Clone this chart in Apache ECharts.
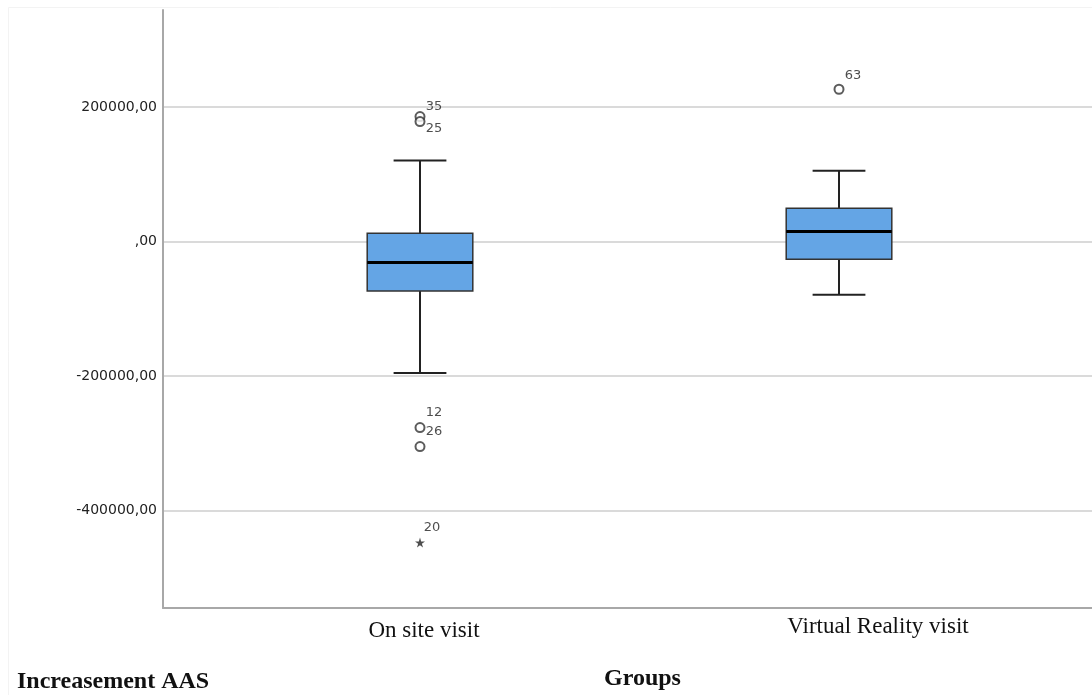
<!DOCTYPE html>
<html>
<head>
<meta charset="utf-8">
<script src="https://cdn.jsdelivr.net/npm/echarts@6/dist/echarts.min.js"></script>
<style>html,body{margin:0;padding:0;background:#fff;}#c{width:1092px;height:695px;}</style>
</head>
<body>
<div id="c"></div>
<script>
// ---- data ----
const categories = ['On site visit', 'Virtual Reality visit'];
// [lower whisker, Q1, median, Q3, upper whisker]
const boxStats = [
  [-195500, -73600, -31500, 12200, 120100],
  [-79500, -26500, 14600, 49400, 105200]
];
const outlierGroup = [0, 0, 0, 0, 1];
const outlierValues = [185500, 178100, -276800, -305000, 226200];
const outlierIds = ['35', '25', '12', '26', '63'];
const extremeGroup = [0];
const extremeValues = [-447700];
const extremeIds = ['20'];
const yTicks = [-400000, -200000, 0, 200000];
const yMin = -545000, yMax = 344000;
const xTitle = 'Groups';
const yTitle = 'Increasement AAS';

// label offsets (style)
const labelOffsets = {'35': [14, -10], '25': [14, 7], '12': [14, -15], '26': [14, -15], '63': [14, -14], '20': [12, -15]};

const chart = echarts.init(document.getElementById('c'), null, {renderer: 'canvas'});
const fmt = v => (v === 0 ? ',00' : v + ',00');

const boxData = boxStats.map((s, i) => [i].concat(s));
const outData = outlierValues.map((v, i) => ({
  value: [outlierGroup[i], v],
  label: {formatter: outlierIds[i], offset: labelOffsets[outlierIds[i]]}
}));
const extData = extremeValues.map((v, i) => ({
  value: [extremeGroup[i], v],
  label: {formatter: extremeIds[i], offset: labelOffsets[extremeIds[i]]}
}));

const starPath = 'path://M50,0 L61,35 L98,35 L68,57 L79,91 L50,70 L21,91 L32,57 L2,35 L39,35 Z';

const option = {
  animation: false,
  backgroundColor: '#fff',
  grid: [
    {left: 163, right: 0, top: 10, bottom: 87},
    {left: 210.5, width: 838, top: 10, bottom: 87}
  ],
  xAxis: [
    {gridIndex: 0, type: 'value', min: 0, max: 1, axisLine: {show: true, onZero: false, lineStyle: {color: '#a8a8a8', width: 2}},
     axisTick: {show: false}, axisLabel: {show: false}, splitLine: {show: false}},
    {gridIndex: 1, type: 'category', data: categories, boundaryGap: true,
     axisLine: {show: false}, axisTick: {show: false}, splitLine: {show: false},
     axisLabel: {
       margin: 7,
       formatter: (v, i) => (i === 0 ? '{a|' + v + '}' : '{b|' + v + '}'),
       rich: {
         a: {fontFamily: 'Liberation Serif', fontSize: 23, color: '#111', lineHeight: 23, padding: [8, 0, 0, 8]},
         b: {fontFamily: 'Liberation Serif', fontSize: 23, color: '#111', lineHeight: 23, padding: [0, 0, 0, 78]}
       }
     }}
  ],
  yAxis: [
    {gridIndex: 0, type: 'value', min: yMin, max: yMax,
     axisLine: {show: true, onZero: false, lineStyle: {color: '#a8a8a8', width: 2}},
     axisTick: {show: false, customValues: yTicks},
     axisLabel: {customValues: yTicks, formatter: fmt, margin: 6, fontFamily: 'DejaVu Sans', fontSize: 14, color: '#222'},
     splitLine: {show: true, lineStyle: {color: '#dadada', width: 2}}},
    {gridIndex: 1, type: 'value', min: yMin, max: yMax, show: false, splitLine: {show: false}}
  ],
  series: [
    {
      type: 'custom', xAxisIndex: 1, yAxisIndex: 1, data: boxData,
      encode: {x: 0, y: [1, 2, 3, 4, 5]},
      renderItem: function (params, api) {
        const i = api.value(0);
        const bw = api.size([1, 0])[0] * 0.252;
        const cw = bw / 2;
        const pMin = api.coord([i, api.value(1)]);
        const pQ1 = api.coord([i, api.value(2)]);
        const pMed = api.coord([i, api.value(3)]);
        const pQ3 = api.coord([i, api.value(4)]);
        const pMax = api.coord([i, api.value(5)]);
        const x = pMed[0];
        const lineSt = {stroke: '#222', lineWidth: 2};
        return {
          type: 'group',
          children: [
            {type: 'line', shape: {x1: x, y1: pMax[1], x2: x, y2: pQ3[1]}, style: lineSt},
            {type: 'line', shape: {x1: x, y1: pQ1[1], x2: x, y2: pMin[1]}, style: lineSt},
            {type: 'line', shape: {x1: x - cw / 2, y1: pMax[1], x2: x + cw / 2, y2: pMax[1]}, style: lineSt},
            {type: 'line', shape: {x1: x - cw / 2, y1: pMin[1], x2: x + cw / 2, y2: pMin[1]}, style: lineSt},
            {type: 'rect', shape: {x: x - bw / 2, y: pQ3[1], width: bw, height: pQ1[1] - pQ3[1]},
             style: {fill: '#64a5e5', stroke: '#333', lineWidth: 1.5}},
            {type: 'line', shape: {x1: x - bw / 2, y1: pMed[1], x2: x + bw / 2, y2: pMed[1]}, style: {stroke: '#000', lineWidth: 3}}
          ]
        };
      }
    },
    {
      type: 'scatter', xAxisIndex: 1, yAxisIndex: 1, data: outData,
      symbol: 'emptyCircle', symbolSize: 9,
      itemStyle: {color: '#333', borderColor: '#333', borderWidth: 1.2},
      label: {show: true, position: 'inside', fontFamily: 'DejaVu Sans', fontSize: 13, color: '#222'},
      z: 5
    },
    {
      type: 'scatter', xAxisIndex: 1, yAxisIndex: 1, data: extData,
      symbol: starPath, symbolSize: 10,
      itemStyle: {color: '#222'},
      label: {show: true, position: 'inside', fontFamily: 'DejaVu Sans', fontSize: 13, color: '#222'},
      z: 5
    }
  ],
  graphic: [
    {type: 'rect', left: 6, top: 5, shape: {width: 1090, height: 688}, style: {fill: 'none', stroke: '#f3f3f3', lineWidth: 1}, z: -1},
    {type: 'text', left: 17, top: 670, style: {text: yTitle, font: 'bold 24px "Liberation Serif"', fill: '#111'}},
    {type: 'text', left: 604, top: 667, style: {text: xTitle, font: 'bold 24px "Liberation Serif"', fill: '#111'}}
  ]
};
chart.setOption(option);
</script>
</body>
</html>
